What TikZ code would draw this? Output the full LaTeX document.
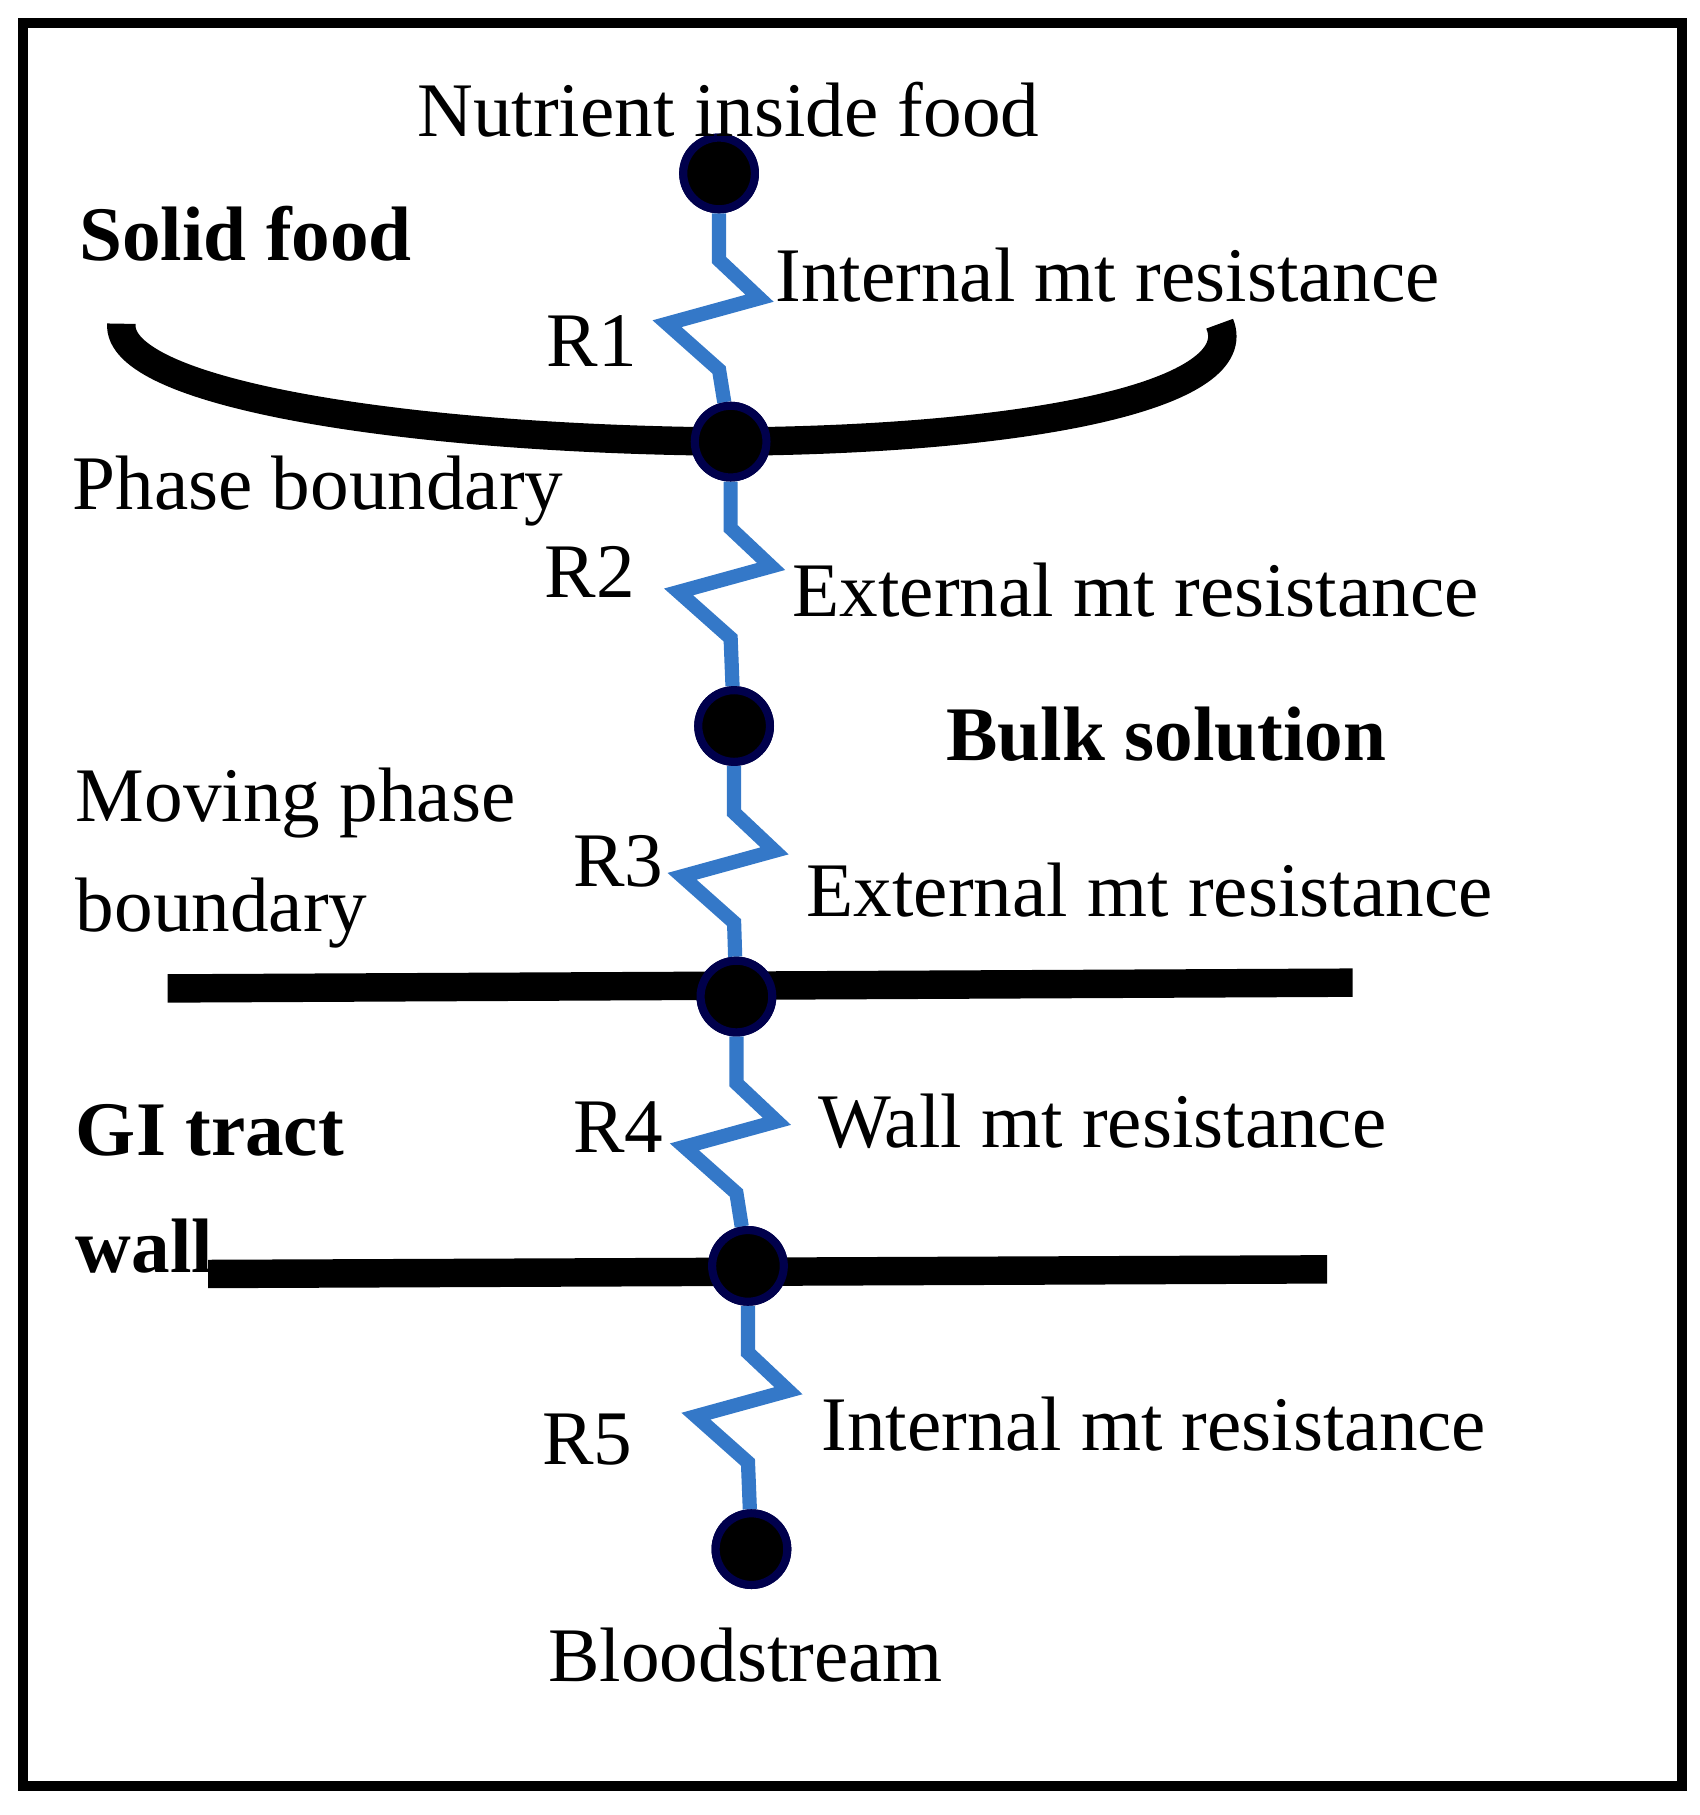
\documentclass[tikz,border=0pt]{standalone}
\usepackage{fontspec}
\setmainfont{Liberation Serif}
\usetikzlibrary{calc}
\definecolor{springcol}{RGB}{52,120,200}
\colorlet{dotcol}{blue!30!black}
\tikzset{
  dot/.style={circle,fill=black,draw=dotcol,line width=2pt,minimum size=0.62cm,inner sep=0pt},
  lbl/.style={font=\fontsize{19}{22}\selectfont,inner sep=0pt},
  blbl/.style={lbl,font=\fontsize{19}{22}\selectfont\bfseries},
  spring/.style={springcol,line width=3.5pt,line join=miter},
  wall/.style={line width=7pt}
}
\newcommand{\spring}[2]{%
  \draw[spring] (#1) -- ++(0,-0.75) -- ++(0.35,-0.33) -- ++(-0.8,-0.22) -- ++(0.45,-0.4) -- (#2);}
\begin{document}
\begin{tikzpicture}
  \useasboundingbox (0,0) rectangle (14.7,-15.7);
  \draw[line width=2.5pt] (0.2,-0.2) rectangle (14.55,-15.45);

  % nodes
  \node[dot] (n1) at (6.22,-1.5) {};
  \node[dot] (n2) at (6.32,-3.82) {};
  \node[dot] (n3) at (6.35,-6.28) {};
  \node[dot] (n4) at (6.37,-8.62) {};
  \node[dot] (n5) at (6.47,-10.95) {};
  \node[dot] (n6) at (6.50,-13.40) {};

  % boundaries
  \draw[wall] (1.05,-2.8) .. controls (1.0,-3.4) and (3.5,-3.8) .. (n2.center)
              .. controls (9.0,-3.8) and (10.8,-3.4) .. (10.55,-2.8);
  \draw[wall] (1.45,-8.55) -- (11.7,-8.5);
  \draw[wall] (1.8,-11.02) -- (11.48,-10.98);

  % springs
  \spring{n1}{n2}
  \spring{n2}{n3}
  \spring{n3}{n4}
  \spring{n4}{n5}
  \spring{n5}{n6}
  \foreach \n in {n1,n2,n3,n4,n5,n6} \node[dot] at (\n) {};

  % labels
  \node[lbl] at (6.3,-0.95) {Nutrient inside food};
  \node[blbl,anchor=west] at (0.68,-2.02) {Solid food};
  \node[lbl,anchor=west] at (6.7,-2.38) {Internal mt resistance};
  \node[lbl] at (5.12,-2.95) {R1};
  \node[lbl,anchor=west] at (0.62,-4.25) {Phase boundary};
  \node[lbl] at (5.1,-4.95) {R2};
  \node[lbl,anchor=west] at (6.85,-5.1) {External mt resistance};
  \node[blbl,anchor=west] at (8.18,-6.35) {Bulk solution};
  \node[lbl,anchor=west] at (0.65,-6.95) {Moving phase};
  \node[lbl,anchor=west] at (0.65,-7.9) {boundary};
  \node[lbl] at (5.35,-7.45) {R3};
  \node[lbl,anchor=west] at (6.97,-7.7) {External mt resistance};
  \node[blbl,anchor=west] at (0.65,-9.78) {GI tract};
  \node[blbl,anchor=west] at (0.65,-10.78) {wall};
  \node[lbl] at (5.35,-9.75) {R4};
  \node[lbl,anchor=west] at (7.07,-9.7) {Wall mt resistance};
  \node[lbl] at (5.08,-12.45) {R5};
  \node[lbl,anchor=west] at (7.1,-12.32) {Internal mt resistance};
  \node[lbl] at (6.45,-14.32) {Bloodstream};
\end{tikzpicture}
\end{document}
